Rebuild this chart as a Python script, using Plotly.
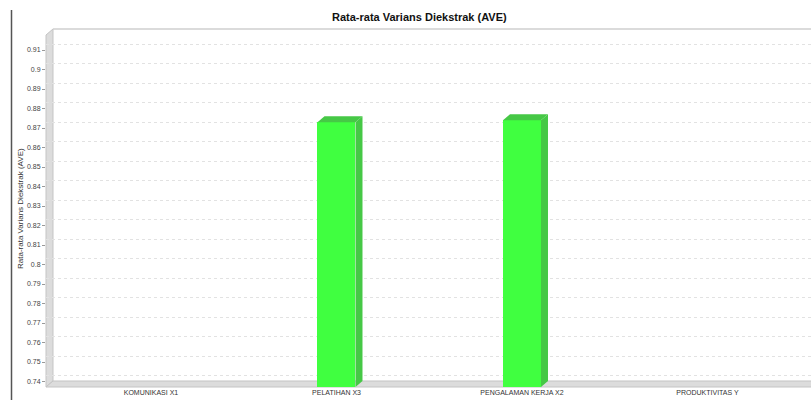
import plotly.graph_objects as go

# ---- data ----
categories = ["KOMUNIKASI X1", "PELATIHAN X3", "PENGALAMAN KERJA X2", "PRODUKTIVITAS Y"]
ave = [None, 0.873, 0.874, None]
y_ticks = [round(0.74 + 0.01 * i, 2) for i in range(18)]
y_tick_text = [("%g" % v) for v in y_ticks]
title_text = "Rata-rata Varians Diekstrak (AVE)"

# ---- layout geometry (pixels) ----
W, H = 811, 400
L, R, T, B = 46, 811, 35, 387           # front plane of the plot area
DX, DY = 7, 6                           # 3D depth offset
x_range = [-0.566, 3.558]
y_range = [0.73718, 0.91769]
px_x = (R - L) / (x_range[1] - x_range[0])
px_y = (B - T) / (y_range[1] - y_range[0])
dxu = DX / px_x
dyu = DY / px_y
bar_w = 38 / px_x

FRONT = "#40FF40"
SIDE = "#46C846"
WALL = "#DCDCDC"
EDGE = "#C4C4C4"
FONT = "Liberation Sans, Arial, sans-serif"


def px(xp, yp):
    # pixel -> paper coordinates (paper = plot area)
    return (xp - L) / (R - L), (B - yp) / (B - T)


def ppath(points):
    s = ""
    for i, (a, b) in enumerate(points):
        xa, yb = px(a, b)
        s += ("M" if i == 0 else "L") + f"{xa:.5f},{yb:.5f} "
    return s + "Z"


fig = go.Figure()
fig.add_trace(go.Bar(
    x=list(range(len(categories))), y=ave, width=bar_w,
    marker=dict(color=FRONT, line=dict(width=0)),
    hoverinfo="skip", showlegend=False,
))
fig.add_trace(go.Scatter(x=[], y=[], yaxis="y2", showlegend=False))

shapes = []
# left wall
shapes.append(dict(type="path", xref="paper", yref="paper", layer="between",
                   path=ppath([(L, B), (L + DX, B - DY), (L + DX, T - DY), (L, T)]),
                   fillcolor=WALL, line=dict(color=EDGE, width=1)))
# floor
shapes.append(dict(type="path", xref="paper", yref="paper", layer="between",
                   path=ppath([(L, B), (L + DX, B - DY), (R + 5, B - DY), (R + 5, B)]),
                   fillcolor=WALL, line=dict(color=EDGE, width=1)))
# back wall top outline
x0p, y0p = px(L + DX, T - DY)
x1p, _ = px(R + 5, T - DY)
shapes.append(dict(type="line", xref="paper", yref="paper", x0=x0p, x1=x1p, y0=y0p, y1=y0p,
                   line=dict(color="#CFCFCF", width=1.5), layer="between"))

# 3D faces of bars (data coordinates)
for i, v in enumerate(ave):
    if v is None:
        continue
    xl, xr = i - bar_w / 2, i + bar_w / 2
    base = y_range[0]
    shapes.append(dict(type="path", xref="x", yref="y", layer="above",
                       path=f"M{xr},{base} L{xr+dxu},{base+dyu} L{xr+dxu},{v+dyu} L{xr},{v} Z",
                       fillcolor=SIDE, line=dict(width=0)))
    shapes.append(dict(type="path", xref="x", yref="y", layer="above",
                       path=f"M{xl},{v} L{xl+dxu},{v+dyu} L{xr+dxu},{v+dyu} L{xr},{v} Z",
                       fillcolor=SIDE, line=dict(width=0)))

# left dark border line of the screenshot
lx0, ly0 = px(11.5, 400)
_, ly1 = px(11.5, 10)
shapes.append(dict(type="line", xref="paper", yref="paper", x0=lx0, x1=lx0,
                   y0=ly0, y1=ly1, line=dict(color="#555555", width=1.5)))

tx, ty = px(419, 17)
ax_, ay_ = px(21, 209)

fig.update_layout(
    width=W, height=H,
    margin=dict(l=L, r=W - R, t=T, b=H - B, pad=0),
    paper_bgcolor="white", plot_bgcolor="rgba(0,0,0,0)",
    font=dict(family=FONT, size=7, color="#444444"),
    shapes=shapes,
    bargap=0,
    xaxis=dict(range=x_range, tickmode="array", tickvals=list(range(len(categories))),
               ticktext=categories, showgrid=False, zeroline=False, showline=False,
               ticks="", tickfont=dict(size=7, color="#333333"), fixedrange=True),
    yaxis=dict(range=y_range, tickmode="array", tickvals=y_ticks, ticktext=y_tick_text,
               showgrid=False, zeroline=False, showline=False, ticks="outside", ticklen=3,
               tickcolor="#999999", tickfont=dict(size=7, color="#444444")),
    yaxis2=dict(range=[y_range[0] - dyu, y_range[1] - dyu], overlaying="y", side="left",
                tickmode="array", tickvals=y_ticks, showticklabels=False, ticks="",
                showgrid=True, gridcolor="#E2E2E2", griddash="dot", gridwidth=1,
                zeroline=False, showline=False),
    annotations=[
        dict(text="<b>" + title_text + "</b>", xref="paper", yref="paper",
             x=tx, y=ty, xanchor="center", yanchor="middle", showarrow=False,
             font=dict(family=FONT, size=11, color="#111111")),
        dict(text=title_text, xref="paper", yref="paper", x=ax_, y=ay_,
             textangle=-90, xanchor="center", yanchor="middle", showarrow=False,
             font=dict(family=FONT, size=8, color="#333333")),
    ],
)

fig.write_html("out.html")
